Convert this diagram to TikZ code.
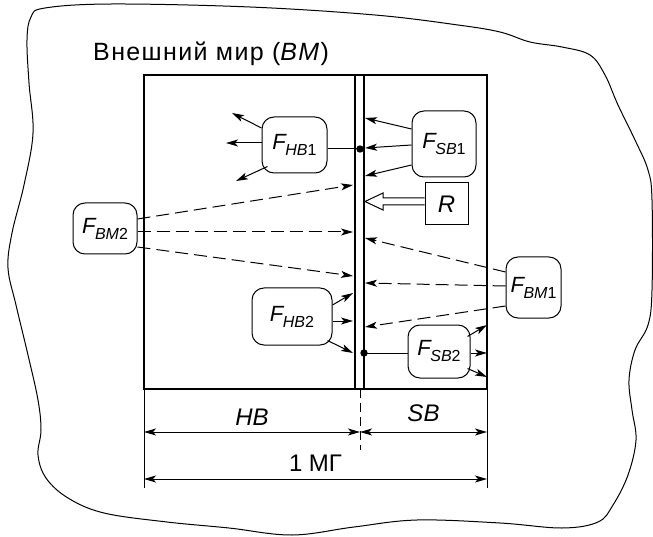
\documentclass[tikz,border=0pt]{standalone}
\usepackage{fontspec}
\setmainfont{Liberation Sans}
\usetikzlibrary{arrows.meta,calc}
\newcommand{\fsub}[2]{{\fontsize{22}{24}\selectfont\textit{F}}\kern-1.5pt\raisebox{-6pt}{\fontsize{16}{16}\selectfont\textit{#1}#2}}
\tikzset{
  blob/.style={draw,line width=1pt,rounded corners=12pt,inner sep=0pt},
  flow/.style={line width=1pt,-{Stealth[length=12pt,width=7pt,inset=3pt]}},
  dflow/.style={flow,dash pattern=on 13pt off 6pt},
  dim/.style={line width=1pt,{Stealth[length=12pt,width=7pt,inset=3pt]}-{Stealth[length=12pt,width=7pt,inset=3pt]}}
}
\begin{document}
\begin{tikzpicture}[x=1pt,y=-1pt,font=\fontsize{24}{28}\selectfont]
\useasboundingbox (0,0) rectangle (653,537);
\draw[line width=1pt] plot[smooth cycle,tension=0.6] coordinates {(31,17) (45,8) (112,4) (250,7) (375,15) (458,25) (500,32) (530,42) (562,47) (590,55) (605,75) (618,105) (635,140) (648,170) (652,200) (652,290) (648,325) (635,350) (629,380) (632,410) (636,440) (628,475) (613,505) (598,522) (562,528) (500,523) (417,520) (354,527) (292,535) (229,528) (167,522) (104,513) (68,498) (46,478) (38,455) (41,430) (38,400) (28,355) (16,305) (8,268) (12,233) (24,185) (33,133) (29,83) (27,40)};
\node[anchor=base west,inner sep=0pt,font=\fontsize{25}{28}\selectfont\addfontfeatures{LetterSpace=5.5}] (title) at (93,61) {Внешний мир (\textit{BM})};
\draw[line width=1.2pt] (144,75) rectangle (487,389);
\draw[line width=1.1pt] (355,75)--(355,389) (364,75)--(364,389);
\node[blob,minimum width=65pt,minimum height=56pt] (hbone) at (294.5,145) {\fsub{HB}{1}};
\node[blob,minimum width=64pt,minimum height=66pt] (sbone) at (444,144) {\fsub{SB}{1}};
\node[draw,line width=1pt,minimum width=43pt,minimum height=42pt,inner sep=0pt] (rbox) at (446.5,204) {\textit{R}};
\node[blob,minimum width=64pt,minimum height=51pt] (bmtwo) at (105,228.5) {\fsub{BM}{2}};
\node[blob,minimum width=55pt,minimum height=61pt] (bmone) at (533.5,287.5) {\fsub{BM}{1}};
\node[blob,minimum width=80pt,minimum height=57pt] (hbtwo) at (292,316.5) {\fsub{HB}{2}};
\node[blob,minimum width=62pt,minimum height=53pt] (sbtwo) at (439,351.5) {\fsub{SB}{2}};
\coordinate (dotup) at (360,149);
\coordinate (dotlow) at (364,353);
\fill (dotup) circle (3.7pt) (dotlow) circle (3.7pt);
\draw[line width=1pt] ($(hbone.east)+(0,4)$)--(dotup);
\draw[line width=1pt] (dotlow)--($(sbtwo.west)+(0,1.5)$);
\draw[flow] ($(hbone.west)+(0,-17)$)--(232,113);
\draw[flow] ($(hbone.west)+(0,-2)$)--(226,143);
\draw[flow] ($(hbone.south west)+(6,-7)$)--(236,181);
\draw[flow] ($(sbone.west)+(0,-15)$)--(365,118);
\draw[flow] ($(sbone.west)+(0,1)$)--(365,148);
\draw[flow] ($(sbone.west)+(0,21)$)--(365,176);
\draw[line width=1pt,fill=white] ($(rbox.west)+(0,-6)$)--(383,198)--(383,193)--(365,201.5)--(383,210)--(383,205)--($(rbox.west)+(0,1)$);
\draw[dflow] ($(bmtwo.east)+(0,-9.5)$)--(353,185);
\draw[dflow] ($(bmtwo.east)+(0,3.5)$)--(353,232);
\draw[dflow] ($(bmtwo.east)+(0,18.5)$)--(353,276);
\draw[dflow] ($(bmone.west)+(0,-15.5)$)--(365,238);
\draw[dflow] ($(bmone.west)+(0,-1.5)$)--(365,283);
\draw[dflow] ($(bmone.west)+(0,18.5)$)--(365,327);
\draw[flow] ($(hbtwo.east)+(0,-11.5)$)--(353,293);
\draw[flow] ($(hbtwo.east)+(0,4.5)$)--(353,321);
\draw[flow] ($(hbtwo.south east)+(-5,-5)$)--(353,353);
\draw[flow] ($(sbtwo.north east)+(-3,12)$)--(487,325);
\draw[flow] ($(sbtwo.east)+(0,1.5)$)--(487,353);
\draw[flow] ($(sbtwo.south east)+(-3,-10)$)--(487,377);
\draw[line width=1pt] (144,389)--(144,488) (487,389)--(487,488);
\draw[line width=1pt,dash pattern=on 9pt off 5pt] (360,389)--(360,450);
\coordinate (hbl) at (144,432);
\coordinate (mid) at (360,432);
\coordinate (sbr) at (487,432);
\draw[dim] (hbl)--(mid) node[midway,anchor=base,yshift=7pt] {\textit{HB}};
\draw[dim] (mid)--(sbr) node[midway,anchor=base,yshift=11pt] {\textit{SB}};
\coordinate (mgl) at (144,479);
\coordinate (mgr) at (487,479);
\draw[dim] (mgl)--(mgr) node[midway,anchor=base,yshift=8pt] {1 МГ};
\end{tikzpicture}
\end{document}
